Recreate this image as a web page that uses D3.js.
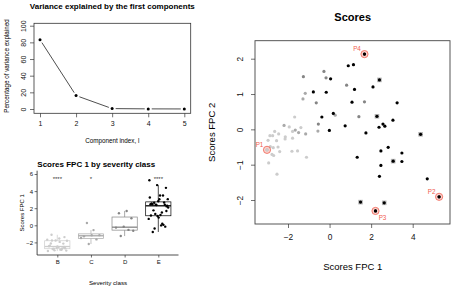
<!DOCTYPE html>
<html>
<head>
<script src="https://cdn.jsdelivr.net/npm/d3@7"></script>
<style>
  body { margin: 0; background: #fff; }
  svg { display: block; font-family: "Liberation Sans", Arial, sans-serif; }
</style>
</head>
<body>
<script>
  // variance explained by each component (%)
  const components = [1, 2, 3, 4, 5]
  const varExplained = [83.2, 16.1, 0.5, 0.15, 0.05]

  // scores [FPC 1, FPC 2] by severity class
  const classes = ['B', 'C', 'D', 'E']
  const scoresB = [
    [-1.68, 0.35], [-1.94, 0.07], [-1.78, -0.06], [-1.38, 0.05], [-2.64, -0.06],
    [-2.45, -0.13], [-2.87, -0.18], [-2.74, -0.18], [-2.96, -0.31], [-2.55, -0.32],
    [-2.13, -0.21], [-2.14, -0.27], [-1.78, -0.25], [-3.01, -0.58], [-2.85, -0.49],
    [-2.77, -0.71], [-2.69, -0.74], [-2.48, -0.50], [-2.40, -0.63], [-2.71, -0.52],
    [-2.93, -0.95], [-1.81, -0.62], [-1.54, -0.61], [-1.11, -0.79], [-2.53, -1.27]
  ]
  const scoresC = [
    [0.27, 0.40], [-1.15, -0.13], [-1.17, 1.02], [-1.28, 0.86], [-1.65, -0.02],
    [-2.19, 0.11], [-1.49, -0.09], [-0.56, -0.05]
  ]
  const scoresD = [
    [1.68, 0.78], [1.41, 0.36], [0.82, 1.25], [-0.17, 1.46], [-0.27, 1.64],
    [-0.54, 0.15], [-1.26, 1.49], [-0.64, 0.75]
  ]
  const scoresE = [
    [1.68, 2.13], [0.90, 1.80], [1.15, 1.83], [0.05, 1.43], [2.40, 1.40],
    [2.09, 1.20], [1.20, 1.13], [-0.78, 1.06], [-0.16, 1.05], [1.08, 0.77],
    [3.25, 0.75], [0.18, 0.45], [-0.37, 0.35], [2.28, 0.37], [3.05, 0.26],
    [2.57, 0.15], [2.66, 0.09], [2.38, 0.06], [0.75, 0.10], [-0.01, -0.03],
    [1.75, -0.10], [4.38, -0.14], [2.82, -0.51], [2.47, -0.61], [3.48, -0.67],
    [1.33, -0.79], [3.06, -0.90], [3.48, -0.91], [2.47, -1.02], [2.40, -1.33],
    [4.70, -1.40], [5.27, -1.91], [1.49, -2.06], [2.63, -2.08], [2.21, -2.31]
  ]
  // points of class E that sit on another point
  const overlapE = [4, 13, 21, 26, 32, 33]
  // labelled points: name, class, index
  const marked = [['P1', 'B', 13], ['P2', 'E', 31], ['P3', 'E', 34], ['P4', 'E', 0]]
  const signif = ['****', '*', '', '****']

  const scores = { B: scoresB, C: scoresC, D: scoresD, E: scoresE }
  const colors = { B: '#cccccc', C: '#a9a9a9', D: '#858585', E: '#000000' }
  const red = '#f0604f'

  const svg = d3.select('body').append('svg').attr('width', 454).attr('height', 288)

  function styleTicks(sel, size) {
    sel.select('.domain').remove()
    sel.selectAll('line').attr('stroke', '#333').attr('stroke-width', 0.7)
    sel.selectAll('text').attr('font-size', size).attr('fill', '#111').attr('font-family', null)
  }

  // ---------- variance explained ----------
  {
    const x = d3.scaleLinear().domain([1, 5]).range([40, 184.3])
    const y = d3.scaleLinear().domain([0, 100]).range([109, 25.7])
    const g = svg.append('g')

    g.append('rect').attr('x', 34).attr('y', 23.3).attr('width', 156.7).attr('height', 90)
      .attr('fill', 'none').attr('stroke', '#333').attr('stroke-width', 0.8)

    const pts = components.map((c, i) => [x(c), y(varExplained[i])])
    d3.pairs(pts).forEach(([a, b]) => {
      const dx = b[0] - a[0], dy = b[1] - a[1]
      const len = Math.hypot(dx, dy), gap = 3.5 / len
      g.append('line')
        .attr('x1', a[0] + dx * gap).attr('y1', a[1] + dy * gap)
        .attr('x2', b[0] - dx * gap).attr('y2', b[1] - dy * gap)
        .attr('stroke', '#222').attr('stroke-width', 0.8)
    })
    g.selectAll('circle.v').data(pts).join('circle')
      .attr('cx', d => d[0]).attr('cy', d => d[1]).attr('r', 1.5).attr('fill', '#000')

    g.append('g').attr('transform', 'translate(0,113.3)')
      .call(d3.axisBottom(x).tickValues(components).tickSize(4).tickPadding(4).tickFormat(d3.format('d')))
      .call(s => styleTicks(s, 7))
    g.append('g').attr('transform', 'translate(34,0)')
      .call(d3.axisLeft(y).tickValues([0, 20, 40, 60, 80, 100]).tickSize(4))
      .call(s => styleTicks(s, 7))
      .selectAll('text').attr('transform', 'rotate(-90)').attr('x', 0).attr('y', -8.5)
      .attr('dy', null).attr('text-anchor', 'middle')

    g.append('text').attr('x', 112.3).attr('y', 8.5).attr('text-anchor', 'middle')
      .attr('font-size', 8).attr('font-weight', 'bold').text('Variance explained by the first components')
    g.append('text').attr('x', 112.3).attr('y', 142.5).attr('text-anchor', 'middle')
      .attr('font-size', 6.3).text('Component index, l')
    g.append('text').attr('transform', 'translate(9.3,66) rotate(-90)').attr('text-anchor', 'middle')
      .attr('font-size', 6.3).text('Percentage of variance explained')
  }

  // ---------- box plot FPC 1 by class ----------
  {
    const x = d3.scaleLinear().domain([1, 4]).range([57.3, 158.3])
    const y = d3.scaleLinear().domain([0, 6]).range([225.3, 174])
    const g = svg.append('g')
    const left = x(0.4), right = x(4.6), top = 170.7, bottom = 255
    const bw = (x(2) - x(1)) * 0.75

    classes.forEach((c, ci) => {
      const v = scores[c].map(d => d[0]).sort(d3.ascending)
      const q1 = d3.quantile(v, 0.25), med = d3.quantile(v, 0.5), q3 = d3.quantile(v, 0.75)
      const iqr = q3 - q1
      const lo = d3.min(v.filter(d => d >= q1 - 1.5 * iqr))
      const hi = d3.max(v.filter(d => d <= q3 + 1.5 * iqr))
      const cx = x(ci + 1), col = colors[c]
      g.append('line').attr('x1', cx).attr('x2', cx).attr('y1', y(hi)).attr('y2', y(q3))
        .attr('stroke', col).attr('stroke-width', 0.7)
      g.append('line').attr('x1', cx).attr('x2', cx).attr('y1', y(q1)).attr('y2', y(lo))
        .attr('stroke', col).attr('stroke-width', 0.7)
      g.append('rect').attr('x', cx - bw / 2).attr('y', y(q3)).attr('width', bw).attr('height', y(q1) - y(q3))
        .attr('fill', '#fff').attr('stroke', col).attr('stroke-width', 0.7)
      g.append('line').attr('x1', cx - bw / 2).attr('x2', cx + bw / 2).attr('y1', y(med)).attr('y2', y(med))
        .attr('stroke', col).attr('stroke-width', 1.3)

      g.selectAll('circle.c' + c).data(scores[c]).join('circle')
        .attr('cx', (d, i) => x(ci + 1 + (((i * 0.618034 + ci * 0.3) % 1) - 0.5) * 0.6))
        .attr('cy', d => y(d[0])).attr('r', 1.2).attr('fill', col)

      g.append('text').attr('x', cx).attr('y', y(5.6) + 3.2).attr('text-anchor', 'middle')
        .attr('font-size', 6).attr('fill', '#333').text(signif[ci])
    })

    g.append('line').attr('x1', left).attr('x2', left).attr('y1', top).attr('y2', bottom)
      .attr('stroke', '#222').attr('stroke-width', 0.8)
    g.append('line').attr('x1', left).attr('x2', right).attr('y1', bottom).attr('y2', bottom)
      .attr('stroke', '#222').attr('stroke-width', 0.8)

    g.append('g').attr('transform', `translate(${left},0)`)
      .call(d3.axisLeft(y).tickValues([-2, 0, 2, 4, 6]).tickSize(2.5).tickPadding(1.5)
        .tickFormat(d => d < 0 ? '\u2212' + Math.abs(d) : d))
      .call(s => styleTicks(s, 6))
    g.append('g').attr('transform', `translate(0,${bottom})`)
      .call(d3.axisBottom(x).tickValues([1, 2, 3, 4]).tickSize(2.5).tickPadding(2)
        .tickFormat((d, i) => classes[i]))
      .call(s => styleTicks(s, 6))

    g.append('text').attr('x', 37.3).attr('y', 167).attr('font-size', 8).attr('font-weight', 'bold')
      .text('Scores FPC 1 by severity class')
    g.append('text').attr('x', 108).attr('y', 284.5).attr('text-anchor', 'middle')
      .attr('font-size', 6.2).text('Severity class')
    g.append('text').attr('transform', `translate(24,${(top + bottom) / 2}) rotate(-90)`)
      .attr('text-anchor', 'middle').attr('font-size', 6).text('Scores FPC 1')
  }

  // ---------- scores scatter ----------
  {
    const x = d3.scaleLinear().domain([-2, 4]).range([288, 412.7])
    const y = d3.scaleLinear().domain([-2, 2]).range([200, 58.7])
    const g = svg.append('g')
    const x0 = 255, x1 = 450, y0 = 40.7, y1 = 224

    g.append('rect').attr('x', x0).attr('y', y0).attr('width', x1 - x0).attr('height', y1 - y0)
      .attr('fill', 'none').attr('stroke', '#444').attr('stroke-width', 0.9)

    const minus = d => d < 0 ? '\u2212' + Math.abs(d) : d
    g.append('g').attr('transform', `translate(0,${y1})`)
      .call(d3.axisBottom(x).tickValues([-2, 0, 2, 4]).tickSize(4).tickPadding(6).tickFormat(minus))
      .call(s => styleTicks(s, 8.3))
    g.append('g').attr('transform', `translate(${x0},0)`)
      .call(d3.axisLeft(y).tickValues([-2, -1, 0, 1, 2]).tickSize(4).tickFormat(minus))
      .call(s => styleTicks(s, 8.3))
      .selectAll('text').attr('transform', 'rotate(-90)').attr('x', 0).attr('y', -12.5)
      .attr('dy', null).attr('text-anchor', 'middle')

    classes.forEach(c => {
      if (c === 'E') {
        g.selectAll('rect.ov').data(overlapE).join('rect')
          .attr('x', i => x(scoresE[i][0]) - 2.3).attr('y', i => y(scoresE[i][1]) - 2.3)
          .attr('width', 4.6).attr('height', 4.6).attr('fill', '#b5b5b5')
      }
      g.selectAll('circle.s' + c).data(scores[c]).join('circle')
        .attr('cx', d => x(d[0])).attr('cy', d => y(d[1])).attr('r', 1.6).attr('fill', colors[c])
    })

    marked.forEach(([name, c, i]) => {
      const d = scores[c][i]
      const px = x(d[0]), py = y(d[1])
      g.append('circle').attr('cx', px).attr('cy', py).attr('r', 3.6)
        .attr('fill', 'rgba(240,110,95,0.3)').attr('stroke', red).attr('stroke-width', 0.8)
      g.append('circle').attr('cx', px).attr('cy', py).attr('r', 1.6).attr('fill', colors[c])
      const below = name === 'P3'
      g.append('text').attr('x', px + (below ? 7 : -7.5)).attr('y', py + (below ? 9.5 : -3))
        .attr('text-anchor', 'middle').attr('font-size', 6.3).attr('fill', red).text(name)
    })

    g.append('text').attr('x', 352.7).attr('y', 20.7).attr('text-anchor', 'middle')
      .attr('font-size', 11).attr('font-weight', 'bold').text('Scores')
    g.append('text').attr('x', 352.7).attr('y', 269.5).attr('text-anchor', 'middle')
      .attr('font-size', 9.5).text('Scores FPC 1')
    g.append('text').attr('transform', `translate(215,${(y0 + y1) / 2}) rotate(-90)`)
      .attr('text-anchor', 'middle').attr('font-size', 9.5).text('Scores FPC 2')
  }
</script>
</body>
</html>
